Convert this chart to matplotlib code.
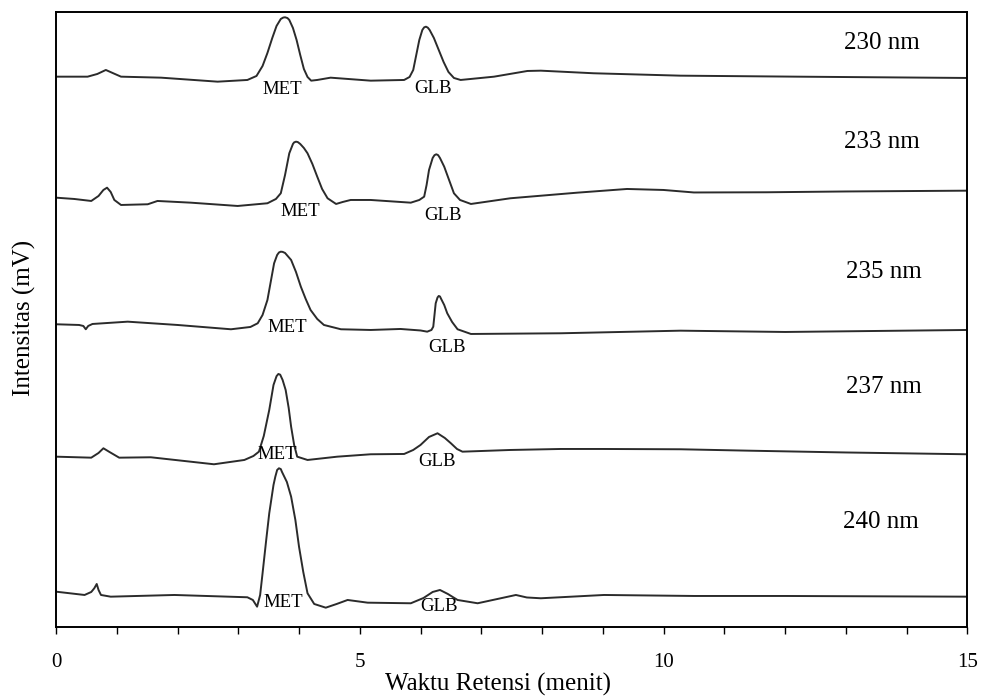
import matplotlib
matplotlib.use("Agg")
import matplotlib.pyplot as plt
from matplotlib.ticker import MultipleLocator

plt.rcParams['font.family'] = ['Liberation Serif', 'DejaVu Serif']

# waktu retensi (menit) dan intensitas relatif terhadap baseline masing-masing
t230 = [0, 0.52, 0.68, 0.82, 0.95, 1.07, 1.73, 2.66, 3.15, 3.30, 3.40, 3.48, 3.56, 3.63, 3.70, 3.74,
        3.77, 3.81, 3.84, 3.90, 3.96, 4.02, 4.08, 4.14, 4.20, 4.30, 4.52, 5.18, 5.73, 5.82, 5.88, 5.93,
        5.98, 6.03, 6.06, 6.09, 6.12, 6.15, 6.22, 6.30, 6.38, 6.46, 6.55, 6.66, 7.21, 7.76, 7.98, 8.85,
        10.28, 12.2, 15.0]
i230 = [0, 0, 2.7, 6.7, 3.2, 0, -1, -5, -3.3, 0.7, 10.7, 23.7, 38.7, 50.7, 57.7, 59.1,
        59.4, 58.6, 56.7, 48.7, 36.7, 21.7, 7.7, -0.3, -4, -3.3, -1, -4, -3.3, -0.3, 6.7, 21.7,
        36.7, 46.7, 49.3, 50, 49.0, 46.7, 38.7, 26.7, 14.7, 4.7, -1.3, -3.3, 0, 5.7, 6, 3.4,
        1, 0, -1.3]

t233 = [0, 0.3, 0.58, 0.70, 0.78, 0.84, 0.90, 0.96, 1.07, 1.51, 1.67, 2.22, 2.99, 3.48, 3.62, 3.70,
        3.77, 3.84, 3.90, 3.92, 3.95, 3.98, 4.02, 4.08, 4.14, 4.22, 4.30, 4.38, 4.47, 4.61, 4.72, 4.85,
        5.18, 5.84, 5.98, 6.06, 6.10, 6.14, 6.20, 6.23, 6.26, 6.29, 6.32, 6.39, 6.47, 6.55, 6.65, 6.83,
        7.48, 8.58, 9.40, 10.0, 10.5, 11.7, 13.0, 15.0]
i233 = [0, -1.3, -3.3, 1.7, 7.7, 10, 5.7, -2.3, -7.3, -6.6, -3.3, -5, -8.3, -5.6, -1.3, 4.4,
        22.7, 44.4, 53.7, 55.3, 56, 55.6, 53.7, 49.7, 44.4, 33.7, 21, 8.7, -0.6, -6.3, -4.3, -2.3,
        -2.3, -5, -2.3, 1, 12.7, 27.7, 39.7, 42.5, 43.4, 42.5, 39.7, 31, 17.7, 4.4, -2.3, -6.3,
        -0.6, 5, 8.7, 7.7, 5.2, 5.4, 6.2, 7]

t235 = [0, 0.38, 0.45, 0.49, 0.53, 0.60, 1.18, 2.0, 2.88, 3.20, 3.32, 3.40, 3.48, 3.54, 3.59, 3.64,
        3.67, 3.70, 3.73, 3.77, 3.87, 3.95, 4.03, 4.11, 4.19, 4.30, 4.41, 4.69, 5.18, 5.67, 6.0, 6.11,
        6.18, 6.21, 6.23, 6.25, 6.28, 6.30, 6.32, 6.34, 6.39, 6.44, 6.52, 6.61, 6.83, 8.31, 10.28, 12.0,
        15.0]
i235 = [0, -0.7, -1.7, -5, -1.7, 0.3, 2.6, -0.7, -5, -2.7, 1, 9.3, 24.3, 44.3, 61, 69.3,
        71.8, 72.6, 72.4, 71.3, 64.3, 52.3, 37.6, 25.3, 14.3, 5.3, -0.7, -5, -5.7, -4.7, -6.2, -7.4,
        -5.7, -2.4, 9.3, 21, 26.8, 28.3, 27.8, 25.3, 19.3, 11, 2.3, -5, -9.7, -9, -6.4, -7.7,
        -5.7]

t237 = [0, 0.58, 0.70, 0.78, 0.88, 1.04, 1.56, 2.60, 3.10, 3.25, 3.34, 3.42, 3.51, 3.58, 3.63, 3.66,
        3.69, 3.73, 3.78, 3.83, 3.87, 3.92, 3.97, 4.14, 4.63, 5.18, 5.73, 5.88, 6.0, 6.14, 6.28, 6.40,
        6.50, 6.60, 6.69, 7.48, 8.31, 9.0, 10.28, 11.4, 13.0, 15.0]
i237 = [0, -1, 3.7, 8.4, 4.7, -1, -0.6, -7.6, -3.3, 0.7, 5, 20.7, 46.7, 71.7, 80.5, 82.7,
        82.0, 76.7, 66.7, 48.7, 30, 11.7, 0, -3.3, 0, 2.4, 2.7, 6.7, 11.7, 19.7, 23.4, 18.7,
        13.4, 7.7, 5, 6.7, 7.7, 7.7, 7.4, 6, 4.2, 2.4]

t240 = [0, 0.47, 0.58, 0.63, 0.67, 0.70, 0.74, 0.90, 1.95, 3.15, 3.24, 3.31, 3.36, 3.40, 3.46, 3.51,
        3.58, 3.61, 3.64, 3.67, 3.70, 3.72, 3.80, 3.87, 3.94, 4.00, 4.07, 4.14, 4.25, 4.44, 4.62, 4.80,
        5.13, 5.84, 6.05, 6.20, 6.32, 6.45, 6.61, 6.94, 7.32, 7.57, 7.75, 7.98, 9.02, 10.5, 12.0, 15.0]
i240 = [0, -3.3, -0.3, 3.4, 7.7, 1.7, -3.3, -5, -3.3, -5.6, -8.3, -15, -3.3, 18.4, 51.7, 78.4,
        106.7, 115, 121.7, 123.4, 122.6, 119.7, 109.7, 95, 71.7, 45, 19.7, -1.6, -12.3, -16, -12.3, -8.3,
        -11, -11.6, -6.3, -0.3, 1.7, -2.3, -8.3, -11.6, -6.6, -3.3, -5.8, -6.6, -3.3, -4.3, -4.3, -5]

labels = ['230 nm', '233 nm', '235 nm', '237 nm', '240 nm']
times = [t230, t233, t235, t237, t240]
signals = [i230, i233, i235, i237, i240]

# posisi vertikal tiap kromatogram dan teksnya
offsets = [550, 429, 302.4, 170, 35]
label_pos = [(13.6, 583.7), (13.6, 484.7), (13.63, 354.7), (13.63, 239.7), (13.58, 104.7)]
met_pos = [(3.72, 536.7), (4.02, 414.7), (3.80, 298.7), (3.65, 171.7), (3.74, 23.7)]
glb_pos = [(6.21, 537.7), (6.37, 410.7), (6.44, 278.7), (6.27, 164.7), (6.30, 19.7)]

fig = plt.figure(figsize=(9.81, 6.97), dpi=100)
ax = fig.add_axes([0.0571, 0.1009, 0.9289, 0.8815])

for t, s, off, lab, lp, mp, gp in zip(times, signals, offsets, labels, label_pos, met_pos, glb_pos):
    ax.plot(t, [v + off for v in s], color='#2b2b2b', lw=1.4, solid_joinstyle='round')
    ax.text(lp[0], lp[1], lab, fontsize=18, ha='center', va='center')
    ax.text(mp[0], mp[1], 'MET', fontsize=13.5, ha='center', va='center')
    ax.text(gp[0], gp[1], 'GLB', fontsize=13.5, ha='center', va='center')

ax.set_xlim(0, 15)
ax.set_ylim(0, 614.4)
ax.xaxis.set_major_locator(MultipleLocator(5))
ax.xaxis.set_minor_locator(MultipleLocator(1))
ax.tick_params(axis='x', which='both', direction='out', length=5, width=1, pad=14, labelsize=15)
ax.set_yticks([])
for sp in ax.spines.values():
    sp.set_linewidth(1.4)

ax.set_xlabel('Waktu Retensi (menit)', fontsize=18)
ax.xaxis.set_label_coords(0.485, -0.076)
ax.set_ylabel('Intensitas (mV)', fontsize=18)
ax.yaxis.set_label_coords(-0.022, 0.502)

fig.savefig('out.png', dpi=100)
